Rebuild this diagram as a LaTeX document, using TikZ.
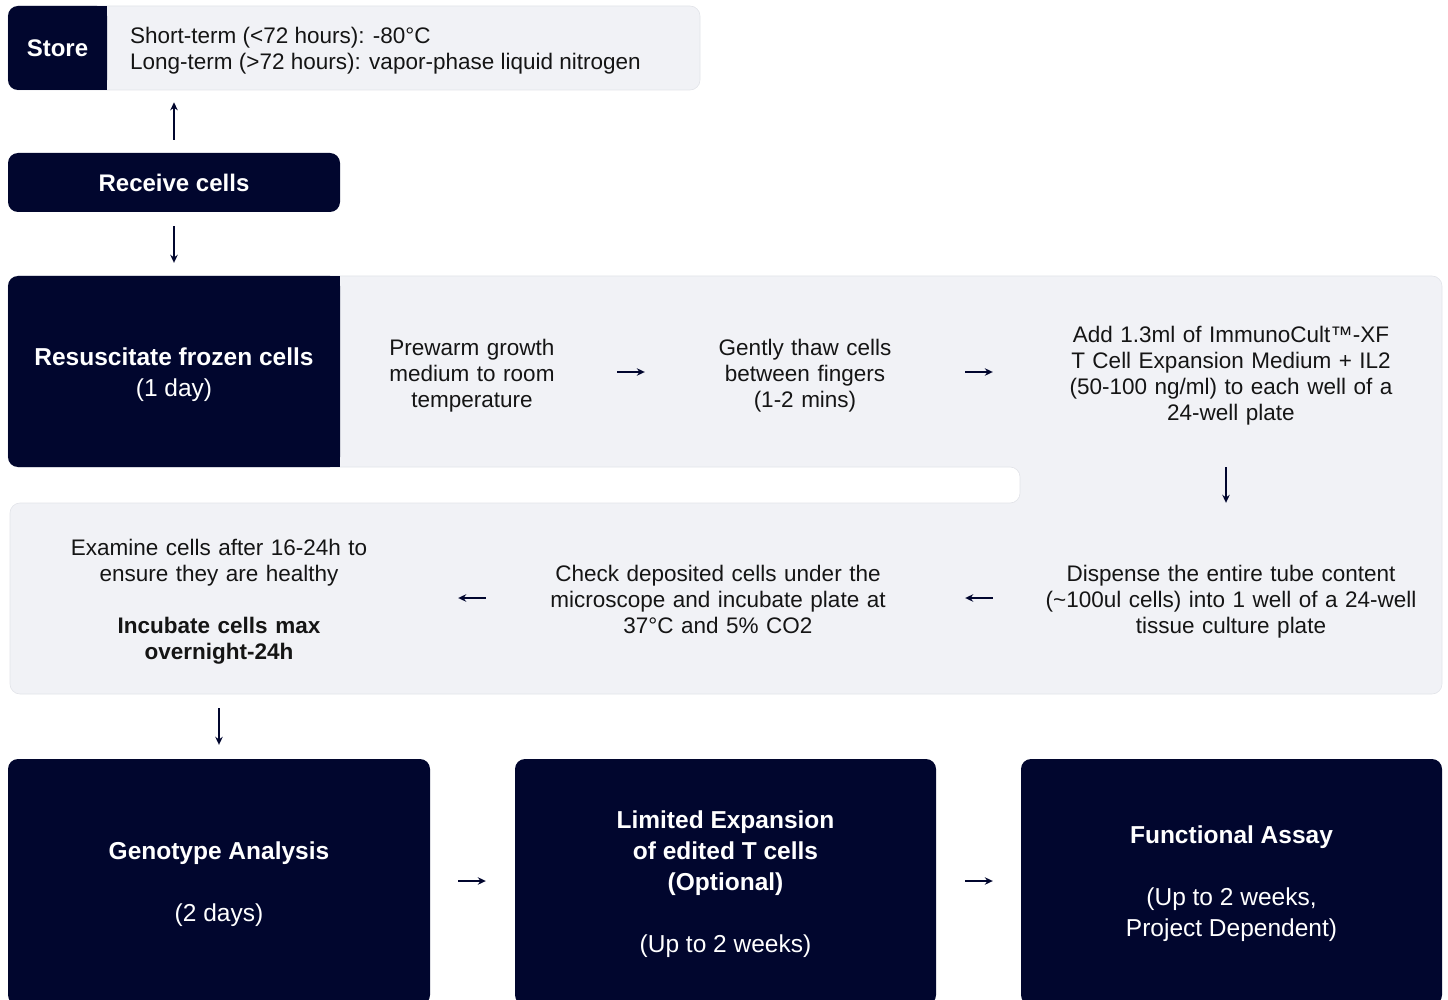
\documentclass[tikz,border=0pt]{standalone}
\usepackage{fontspec}
\setmainfont{Liberation Sans}
\usetikzlibrary{arrows.meta}
\definecolor{navy}{HTML}{01062E}
\definecolor{panel}{HTML}{F1F2F6}
\definecolor{panelline}{HTML}{E2E4E9}
\definecolor{ink}{HTML}{151515}
\begin{document}
\begin{tikzpicture}[x=1pt,y=-1pt,
  darkbox/.style={fill=navy, rounded corners=10pt, inner sep=0pt},
  darklabel/.style={text=white, align=center, inner sep=0pt, execute at begin node=\strut, execute at end node=\strut},
  steptext/.style={text=ink, align=center, inner sep=0pt, minimum height=120pt, font=\fontsize{22.5}{26}\selectfont, execute at begin node=\strut, execute at end node=\strut},
  bigfont/.style={font=\fontsize{24.5}{31}\selectfont},
  arr/.style={draw=navy, line width=1.7pt, -{Stealth[length=8pt,width=7.5pt]}}
]
\useasboundingbox (0,0) rectangle (1448,1000);
\clip (0,0) rectangle (1448,1000);

% Store
\node[fill=panel, draw=panelline, line width=0.6pt, rounded corners=10pt, minimum width=692pt, minimum height=84pt, inner sep=0pt] (storepanel) at (354,48) {};
\fill[navy] (90,6) rectangle (107,90);
\node[darkbox, minimum width=99pt, minimum height=84pt] (store) at (57.5,48) {};
\node[darklabel, font=\bfseries\fontsize{24}{30}\selectfont] (storelabel) at ([yshift=-3pt]store) {Store};
\node[anchor=west, text=ink, align=left, inner sep=0pt, font=\fontsize{22.5}{26}\selectfont, execute at begin node=\strut, execute at end node=\strut] (storetext) at (130,52) {Short-term (<72 hours): -80°C\\Long-term (>72 hours): vapor-phase liquid nitrogen};

% Receive
\node[darkbox, minimum width=332pt, minimum height=59pt] (receive) at (174,182.5) {};
\node[darklabel, font=\bfseries\fontsize{24}{30}\selectfont] (receivelabel) at ([yshift=-3pt]receive) {Receive cells};
\draw[arr, shorten <=13pt, shorten >=12pt] (receive.north) -- (receive.north |- storepanel.south);

% Big panel
\path[fill=panel, draw=panelline, line width=0.6pt, rounded corners=10pt]
  (8,276) -- (1442,276) -- (1442,694) -- (10,694) -- (10,503) -- (1020,503) -- (1020,467) -- (8,467) -- cycle;

% Resuscitate
\fill[navy] (320,276) rectangle (340,467);
\node[darkbox, minimum width=332pt, minimum height=191pt] (resus) at (174,371.5) {};
\node[darklabel, bigfont] (resuslabel) at ([yshift=-5.5pt]resus) {\textbf{Resuscitate frozen cells}\\(1 day)};
\draw[arr, shorten <=14pt, shorten >=13pt] (receive) -- (resus);

% Steps
\node[steptext, text width=200pt] (prewarm) at (472,376) {Prewarm growth\\medium to room\\temperature};
\node[steptext, text width=200pt] (thaw) at (805,376) {Gently thaw cells\\between fingers\\(1-2 mins)};
\node[steptext, text width=360pt] (add) at (1231,376) {Add 1.3ml of ImmunoCult™-XF\\T Cell Expansion Medium + IL2\\(50-100 ng/ml) to each well of a\\24-well plate};
\node[steptext, text width=380pt] (dispense) at (1231,602) {Dispense the entire tube content\\(\textasciitilde 100ul cells) into 1 well of a 24-well\\tissue culture plate};
\node[steptext, text width=380pt] (check) at (718,602) {Check deposited cells under the\\microscope and incubate plate at\\37°C and 5\% CO2};
\node[steptext, text width=320pt, minimum height=140pt] (examine) at (219,602) {Examine cells after 16-24h to\\ensure they are healthy\\[26pt]\textbf{Incubate cells max}\\\textbf{overnight-24h}};

\draw[arr, shorten <=45pt, shorten >=60pt] ([yshift=4pt]prewarm.east) -- ([yshift=4pt]thaw.west);
\draw[arr, shorten <=60pt, shorten >=58pt] ([yshift=4pt]thaw.east) -- ([yshift=4pt]add.west);
\draw[arr, shorten <=31pt, shorten >=39pt] ([xshift=-5pt]add.south) -- ([xshift=-5pt]dispense.north);
\draw[arr, shorten <=48pt, shorten >=57pt] ([yshift=4pt]dispense.west) -- ([yshift=4pt]check.east);
\draw[arr, shorten <=42pt, shorten >=79pt] ([yshift=4pt]check.west) -- ([yshift=4pt]examine.east);

% Bottom boxes
\node[darkbox, minimum width=422pt, minimum height=246pt] (geno) at (219,882) {};
\node[darklabel, bigfont] (genolabel) at ([yshift=-4pt]geno) {\textbf{Genotype Analysis}\\[31pt](2 days)};
\node[darkbox, minimum width=421pt, minimum height=246pt] (limited) at (725.5,882) {};
\node[darklabel, bigfont] (limitedlabel) at ([yshift=-4.5pt]limited) {\textbf{Limited Expansion}\\\textbf{of edited T cells}\\\textbf{(Optional)}\\[31pt](Up to 2 weeks)};
\node[darkbox, minimum width=421pt, minimum height=246pt] (functional) at (1231.5,882) {};
\node[darklabel, bigfont] (functionallabel) at ([yshift=-4pt]functional) {\textbf{Functional Assay}\\[31pt](Up to 2 weeks,\\Project Dependent)};

\draw[arr, shorten <=36pt, shorten >=14pt] (examine.south) -- (geno.north);
\draw[arr, shorten <=28pt, shorten >=29pt] ([yshift=1pt]geno.east) -- ([yshift=1pt]limited.west);
\draw[arr, shorten <=29pt, shorten >=28pt] ([yshift=1pt]limited.east) -- ([yshift=1pt]functional.west);
\end{tikzpicture}
\end{document}
